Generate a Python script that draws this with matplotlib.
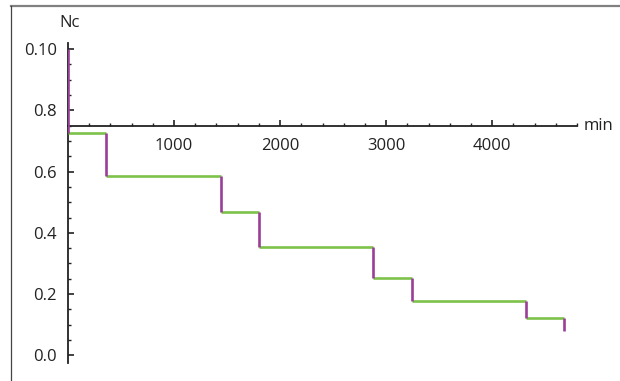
import numpy as np
import matplotlib
matplotlib.use("Agg")
import matplotlib.pyplot as plt
from matplotlib.ticker import MultipleLocator, FixedLocator

plt.rcParams['font.family'] = ['Open Sans', 'DejaVu Sans']

# step times (min) and Nc levels (before first drop, then after each drop)
drop_times = [0, 358, 1443, 1802, 2877, 3245, 4321, 4679]
levels = [1.0, 0.725, 0.585, 0.467, 0.353, 0.252, 0.176, 0.121, 0.078]
y_ticks = [0.0, 0.2, 0.4, 0.6, 0.8, 1.0]
y_labels = ['0.0', '0.2', '0.4', '0.6', '0.8', '0.10']
x_ticks = [1000, 2000, 3000, 4000]

green = '#7dc24a'
purple = '#9a3e97'

fig = plt.figure(figsize=(6.2, 3.81), dpi=100)
ax = fig.add_axes([0.1097, 0.0472, 0.821, 0.840])

# horizontal parts
for i in range(len(drop_times) - 1):
    ax.plot([drop_times[i], drop_times[i + 1]], [levels[i + 1], levels[i + 1]],
            color=green, lw=1.9, solid_capstyle='butt', zorder=3)
# vertical drops
for i, t in enumerate(drop_times):
    ax.plot([t, t], [levels[i], levels[i + 1]], color=purple, lw=1.9,
            solid_capstyle='butt', zorder=4)

ax.set_xlim(0, 4800)
ax.set_ylim(-0.025, 1.02)

for s in ['top', 'right']:
    ax.spines[s].set_visible(False)
ax.spines['bottom'].set_position(('data', 0.75))
ax.spines['left'].set_position(('data', 0))
for s in ['bottom', 'left']:
    ax.spines[s].set_color('#222222')
    ax.spines[s].set_linewidth(1.3)

ax.xaxis.set_major_locator(FixedLocator(x_ticks))
ax.xaxis.set_minor_locator(MultipleLocator(200))
ax.yaxis.set_major_locator(FixedLocator(y_ticks))
ax.yaxis.set_minor_locator(MultipleLocator(0.05))
ax.set_yticklabels(y_labels)

ax.tick_params(axis='both', which='major', direction='in', length=4, width=1.2,
               color='#222222', labelsize=12, labelcolor='#222222')
ax.tick_params(axis='both', which='minor', direction='in', length=2.5, width=1.0,
               color='#222222')
ax.tick_params(axis='x', which='major', pad=9)
ax.tick_params(axis='y', which='major', pad=8)

fig.text(70 / 620, 1 - 23 / 381, 'Nc', fontsize=12, color='#222222',
         ha='center', va='center')
fig.text(584 / 620, 1 - 126 / 381, 'min', fontsize=12, color='#222222',
         ha='left', va='center')

# frame lines (top and left)
fig.add_artist(plt.Line2D([11 / 620, 1], [1 - 6 / 381, 1 - 6 / 381],
                          transform=fig.transFigure, color='#808080', lw=1.6))
fig.add_artist(plt.Line2D([11 / 620, 11 / 620], [0, 1 - 6 / 381],
                          transform=fig.transFigure, color='#444444', lw=0.9))

fig.savefig('out.png', dpi=100)
